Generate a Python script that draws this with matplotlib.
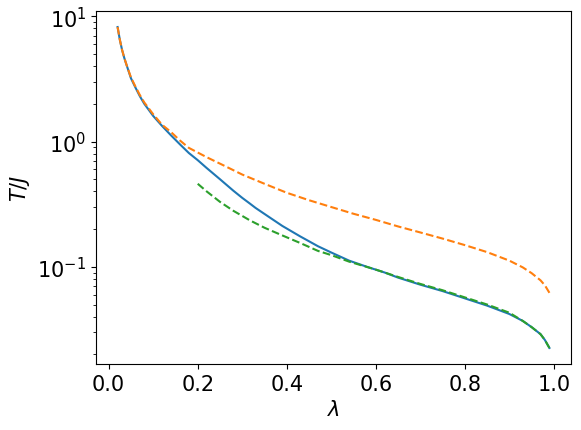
import matplotlib
matplotlib.use('Agg')
import matplotlib.pyplot as plt

# values
lam_blue = [0.02, 0.025, 0.03, 0.035, 0.04, 0.05, 0.06, 0.07, 0.08, 0.10, 0.12, 0.14,
            0.16, 0.18, 0.20, 0.22, 0.25, 0.28, 0.30, 0.317, 0.33, 0.36, 0.39, 0.43,
            0.47, 0.50, 0.54, 0.58, 0.62, 0.65, 0.70, 0.75, 0.80, 0.85, 0.90, 0.93,
            0.95, 0.97, 0.98, 0.99]
T_blue = [8.2, 6.5, 5.4, 4.65, 4.1, 3.2, 2.7, 2.3, 2.0, 1.6, 1.33, 1.12,
          0.95, 0.81, 0.71, 0.615, 0.50, 0.405, 0.355, 0.32, 0.295, 0.25, 0.212, 0.175,
          0.146, 0.13, 0.112, 0.1, 0.09, 0.082, 0.072, 0.064, 0.056, 0.049, 0.042, 0.037,
          0.033, 0.029, 0.026, 0.0225]

lam_orange = [0.02, 0.025, 0.03, 0.035, 0.04, 0.05, 0.06, 0.07, 0.08, 0.10, 0.12, 0.14,
              0.16, 0.18, 0.22, 0.26, 0.30, 0.35, 0.40, 0.45, 0.50, 0.55, 0.60, 0.65,
              0.70, 0.75, 0.80, 0.85, 0.90, 0.93, 0.95, 0.97, 0.98, 0.99]
T_orange = [8.2, 6.5, 5.4, 4.65, 4.1, 3.25, 2.75, 2.35, 2.05, 1.65, 1.36, 1.19,
            1.02, 0.89, 0.75, 0.64, 0.545, 0.46, 0.39, 0.34, 0.30, 0.265, 0.237, 0.21,
            0.188, 0.168, 0.149, 0.131, 0.112, 0.099, 0.089, 0.078, 0.071, 0.062]

lam_green = [0.20, 0.22, 0.25, 0.28, 0.317, 0.35, 0.39, 0.43, 0.47, 0.50, 0.54, 0.60,
             0.65, 0.70, 0.75, 0.80, 0.85, 0.90, 0.93, 0.95, 0.97, 0.98, 0.99]
T_green = [0.46, 0.40, 0.33, 0.28, 0.235, 0.205, 0.178, 0.155, 0.134, 0.124, 0.110, 0.095,
           0.083, 0.073, 0.065, 0.057, 0.050, 0.043, 0.037, 0.033, 0.029, 0.026, 0.0225]

plt.rcParams['font.size'] = 15

fig = plt.figure(figsize=(5.81, 4.31), dpi=100)
ax = fig.add_axes([96/581, 1 - 365/431, (571 - 96)/581, (365 - 12)/431])

ax.plot(lam_blue, T_blue, color='C0')
ax.plot(lam_orange, T_orange, color='C1', linestyle='--')
ax.plot(lam_green, T_green, color='C2', linestyle='--')

ax.set_yscale('log')
ax.set_xlabel(r'$\lambda$')
ax.set_ylabel(r'$T/J$')

fig.savefig('out.png', dpi=100)
